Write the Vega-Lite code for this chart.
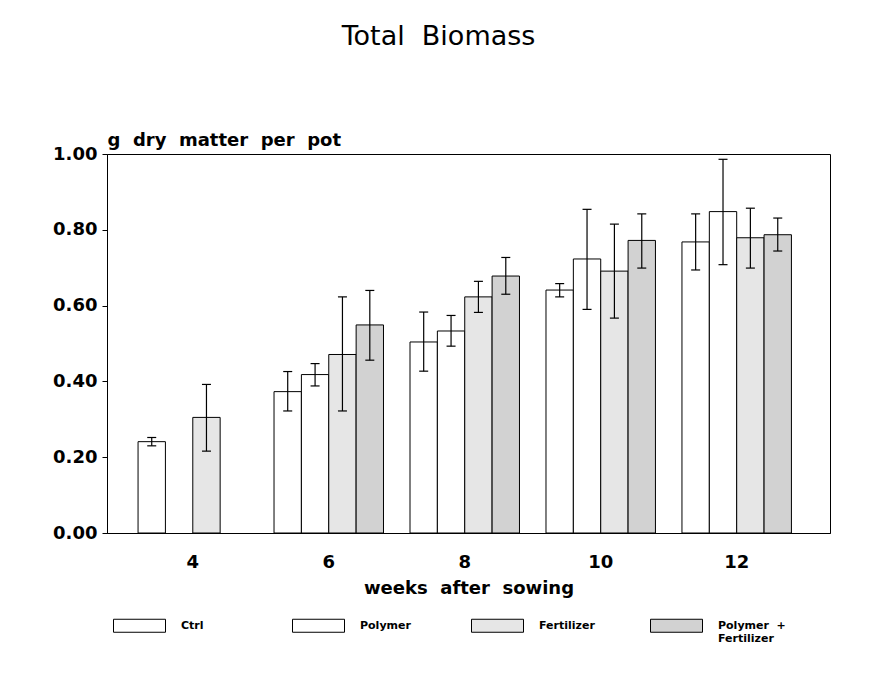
{
  "$schema": "https://vega.github.io/schema/vega-lite/v6.json",
  "autosize": {"type": "none"},
  "width": 723,
  "height": 379,
  "padding": {"left": 107, "top": 154, "right": 39, "bottom": 144},
  "background": "white",
  "title": {
    "text": "Total\u00a0\u00a0Biomass",
    "font": "DejaVu Sans",
    "fontSize": 27,
    "fontWeight": "normal",
    "color": "black",
    "anchor": "middle",
    "frame": "group",
    "dx": -30,
    "offset": 80
  },
  "data": {
    "values": [
      {"week": 4, "treatment": "Ctrl", "mean": 0.241, "low": 0.230, "high": 0.252},
      {"week": 4, "treatment": "Fertilizer", "mean": 0.305, "low": 0.216, "high": 0.392},
      {"week": 6, "treatment": "Ctrl", "mean": 0.373, "low": 0.322, "high": 0.426},
      {"week": 6, "treatment": "Polymer", "mean": 0.418, "low": 0.388, "high": 0.447},
      {"week": 6, "treatment": "Fertilizer", "mean": 0.471, "low": 0.322, "high": 0.623},
      {"week": 6, "treatment": "Polymer + Fertilizer", "mean": 0.549, "low": 0.456, "high": 0.640},
      {"week": 8, "treatment": "Ctrl", "mean": 0.504, "low": 0.427, "high": 0.583},
      {"week": 8, "treatment": "Polymer", "mean": 0.533, "low": 0.493, "high": 0.574},
      {"week": 8, "treatment": "Fertilizer", "mean": 0.623, "low": 0.582, "high": 0.664},
      {"week": 8, "treatment": "Polymer + Fertilizer", "mean": 0.678, "low": 0.630, "high": 0.727},
      {"week": 10, "treatment": "Ctrl", "mean": 0.641, "low": 0.623, "high": 0.658},
      {"week": 10, "treatment": "Polymer", "mean": 0.723, "low": 0.590, "high": 0.854},
      {"week": 10, "treatment": "Fertilizer", "mean": 0.691, "low": 0.567, "high": 0.815},
      {"week": 10, "treatment": "Polymer + Fertilizer", "mean": 0.772, "low": 0.699, "high": 0.842},
      {"week": 12, "treatment": "Ctrl", "mean": 0.768, "low": 0.694, "high": 0.842},
      {"week": 12, "treatment": "Polymer", "mean": 0.848, "low": 0.708, "high": 0.986},
      {"week": 12, "treatment": "Fertilizer", "mean": 0.779, "low": 0.699, "high": 0.857},
      {"week": 12, "treatment": "Polymer + Fertilizer", "mean": 0.787, "low": 0.744, "high": 0.831}
    ]
  },
  "encoding": {
    "x": {
      "field": "week",
      "type": "ordinal",
      "scale": {"domain": [4, 6, 8, 10, 12], "paddingInner": 0.195, "paddingOuter": 0.256, "align": 0.446},
      "axis": {
        "title": "weeks\u00a0\u00a0after\u00a0\u00a0sowing",
        "titleFont": "DejaVu Sans",
        "titleFontSize": 18,
        "titleFontWeight": "bold",
        "titleColor": "black",
        "titlePadding": 8,
        "labelFont": "DejaVu Sans",
        "labelFontSize": 18,
        "labelFontWeight": "bold",
        "labelColor": "black",
        "labelAngle": 0,
        "labelPadding": 20,
        "ticks": false,
        "domainColor": "black",
        "domainWidth": 1
      }
    },
    "xOffset": {
      "field": "treatment",
      "type": "nominal",
      "scale": {"domain": ["Ctrl", "Polymer", "Fertilizer", "Polymer + Fertilizer"], "paddingInner": 0, "paddingOuter": 0}
    }
  },
  "layer": [
    {
      "mark": {"type": "bar", "stroke": "black", "strokeWidth": 1},
      "encoding": {
        "y": {
          "field": "mean",
          "type": "quantitative",
          "scale": {"domain": [0, 1], "nice": false},
          "axis": {
            "title": "g\u00a0\u00a0dry\u00a0\u00a0matter\u00a0\u00a0per\u00a0\u00a0pot",
            "titleAngle": 0,
            "titleAlign": "left",
            "titleBaseline": "bottom",
            "titleX": 0,
            "titleY": -5,
            "titleFont": "DejaVu Sans",
            "titleFontSize": 18,
            "titleFontWeight": "bold",
            "titleColor": "black",
            "values": [0, 0.1, 0.2, 0.3, 0.4, 0.5, 0.6, 0.7, 0.8, 0.9, 1.0],
            "labelExpr": "round(datum.value * 10) % 2 == 0 ? format(datum.value, '.2f') : ''",
            "labelFont": "DejaVu Sans",
            "labelFontSize": 18,
            "labelFontWeight": "bold",
            "labelColor": "black",
            "labelPadding": 5,
            "tickSize": 5,
            "tickColor": "black",
            "domainColor": "black",
            "grid": false
          }
        },
        "fill": {
          "field": "treatment",
          "type": "nominal",
          "scale": {
            "domain": ["Ctrl", "Polymer", "Fertilizer", "Polymer + Fertilizer"],
            "range": ["#ffffff", "#ffffff", "#e6e6e6", "#d2d2d2"]
          },
          "legend": {
            "title": null,
            "orient": "none",
            "legendX": 6,
            "legendY": 445,
            "direction": "horizontal",
            "columns": 4,
            "gridAlign": "all",
            "columnPadding": 41,
            "symbolType": "M-1,-0.25H1V0.25H-1Z",
            "symbolSize": 2704,
            "symbolStrokeColor": "black",
            "symbolStrokeWidth": 1,
            "symbolOpacity": 1,
            "labelOffset": 15,
            "labelFont": "DejaVu Sans",
            "labelFontSize": 11,
            "labelFontWeight": "bold",
            "labelColor": "black",
            "labelLineHeight": 17,
            "labelExpr": "datum.label == 'Polymer + Fertilizer' ? ['Polymer\u00a0\u00a0+', 'Fertilizer'] : [datum.label, '']"
          }
        }
      }
    },
    {
      "mark": {"type": "rule", "color": "black", "strokeWidth": 1.2},
      "encoding": {
        "y": {"field": "low", "type": "quantitative"},
        "y2": {"field": "high"}
      }
    },
    {
      "mark": {"type": "tick", "color": "black", "thickness": 1.2, "size": 9, "opacity": 1},
      "encoding": {
        "y": {"field": "low", "type": "quantitative"}
      }
    },
    {
      "mark": {"type": "tick", "color": "black", "thickness": 1.2, "size": 9, "opacity": 1},
      "encoding": {
        "y": {"field": "high", "type": "quantitative"}
      }
    }
  ],
  "config": {
    "view": {"stroke": "black", "strokeWidth": 1}
  }
}
